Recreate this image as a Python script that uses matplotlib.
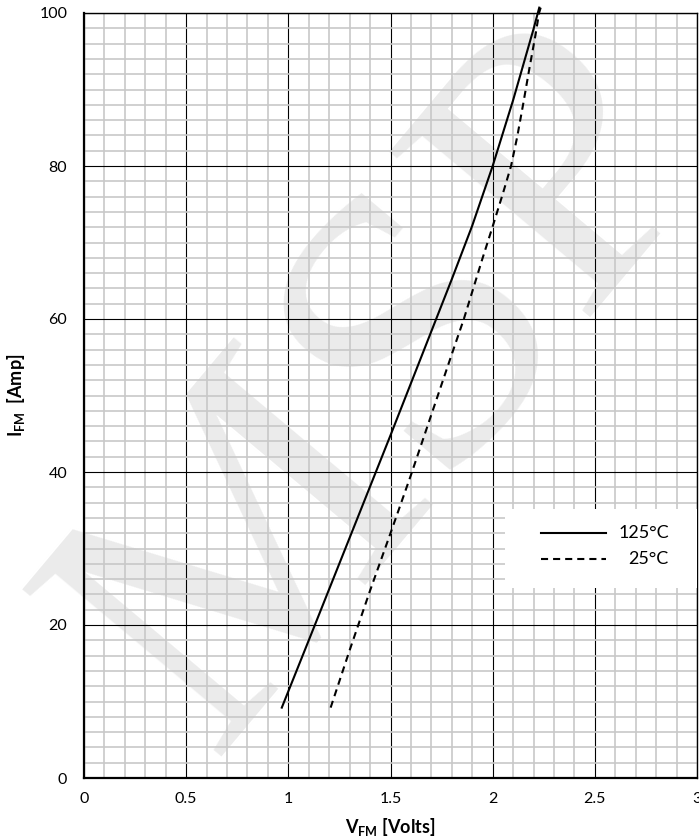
import matplotlib
matplotlib.use("Agg")
import matplotlib.pyplot as plt
from matplotlib.ticker import MultipleLocator, FixedLocator
from matplotlib.patches import Rectangle

plt.rcParams['font.family'] = ['Lato', 'DejaVu Sans']
plt.rcParams['mathtext.fontset'] = 'custom'
plt.rcParams['mathtext.rm'] = 'Lato'
plt.rcParams['mathtext.bf'] = 'Lato:bold'

# --- data ---
v_125 = [0.968, 1.10, 1.20, 1.30, 1.40, 1.50, 1.60, 1.70, 1.80, 1.90, 2.00, 2.10, 2.20, 2.221, 2.228]
i_125 = [9.2, 18.0, 24.7, 31.4, 38.1, 44.8, 51.6, 58.4, 65.2, 72.2, 80.0, 88.6, 97.9, 100.0, 100.7]
v_25 = [1.207, 1.30, 1.40, 1.50, 1.60, 1.70, 1.80, 1.859, 1.95, 2.00, 2.05, 2.09, 2.12, 2.15, 2.18, 2.21, 2.227, 2.235]
i_25 = [9.2, 16.7, 24.5, 32.0, 39.6, 47.5, 55.4, 60.0, 67.9, 72.1, 76.4, 80.0, 83.8, 88.2, 92.8, 97.2, 100.0, 100.7]
series_labels = ['125°C', '25°C']
x_ticks = [0, 0.5, 1, 1.5, 2, 2.5, 3]
x_tick_labels = ['0', '0.5', '1', '1.5', '2', '2.5', '3']
y_ticks = [0, 20, 40, 60, 80, 100]
y_tick_labels = ['0', '20', '40', '60', '80', '100']
x_label = r'$\mathbf{V_{FM}}$ [Volts]'
y_label = r'$\mathbf{I_{FM}}$  [Amp]'
watermark = 'MSP'

fig = plt.figure(figsize=(6.99, 8.4), dpi=100)
fig.patch.set_facecolor('white')
ax = fig.add_axes([84/699, 62/840, 613/699, 765/840])
ax.patch.set_alpha(0)

# watermark (behind everything)
fig.text(392/699, 1 - 392/840, watermark, fontsize=285, family='Liberation Serif',
         color='#ebebeb', rotation=50, ha='center', va='center',
         rotation_mode='anchor', zorder=-5)

ax.set_xlim(0, 3)
ax.set_ylim(0, 100)
ax.xaxis.set_major_locator(FixedLocator(x_ticks))
ax.yaxis.set_major_locator(FixedLocator(y_ticks))
ax.set_xticklabels(x_tick_labels)
ax.set_yticklabels(y_tick_labels)
ax.xaxis.set_minor_locator(MultipleLocator(0.1))
ax.yaxis.set_minor_locator(MultipleLocator(2))
ax.set_axisbelow(True)
ax.grid(which='minor', color='#c8c8c8', lw=1.2)
ax.grid(which='major', color='black', lw=0.8)
ax.tick_params(which='both', length=0)
ax.tick_params(axis='x', labelsize=11.5, pad=10)
ax.tick_params(axis='y', labelsize=11.5, pad=12)

for s in ['left', 'bottom']:
    ax.spines[s].set_linewidth(1.6)
for s in ['top', 'right']:
    ax.spines[s].set_linewidth(1.0)

ax.plot(v_125, i_125, color='black', lw=1.5, clip_on=False, zorder=4,
        solid_joinstyle='round')
ax.plot(v_25, i_25, color='black', lw=1.5, dashes=(3.4, 2.4), clip_on=False, zorder=4)

ax.set_xlabel(x_label, fontsize=13, fontweight='bold', labelpad=7)
ax.set_ylabel(y_label, fontsize=13, fontweight='bold', labelpad=9)

# legend box
ax.add_patch(Rectangle((0.687, 0.248), 0.33, 0.104, transform=ax.transAxes,
                       facecolor='white', edgecolor='none', zorder=5))
ax.plot([0.7455, 0.8515], [0.320, 0.320], transform=ax.transAxes, color='black', lw=1.5, zorder=6)
ax.plot([0.7455, 0.8515], [0.286, 0.286], transform=ax.transAxes, color='black', lw=1.5,
        dashes=(3.4, 2.4), zorder=6)
ax.text(0.954, 0.320, series_labels[0], transform=ax.transAxes, ha='right', va='center',
        fontsize=13, zorder=7)
ax.text(0.954, 0.286, series_labels[1], transform=ax.transAxes, ha='right', va='center',
        fontsize=13, zorder=7)

fig.savefig('out.png', dpi=100)
